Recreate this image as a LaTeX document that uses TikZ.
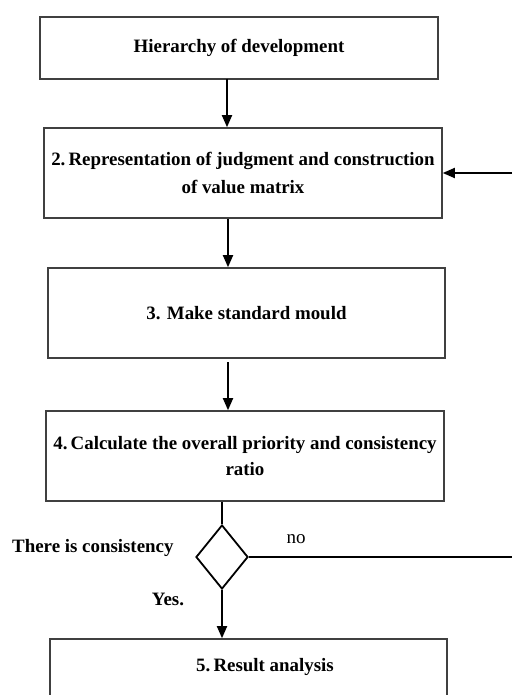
\documentclass[tikz,border=0pt]{standalone}
\usepackage{fontspec}
\setmainfont{Liberation Serif}
\usetikzlibrary{shapes.geometric,arrows.meta}
\begin{document}
\begin{tikzpicture}[x=1pt,y=-1pt,
  box/.style={draw=black!75, line width=1.6pt, rectangle, inner sep=0pt, align=center,
     font=\bfseries\fontsize{18.9}{28}\selectfont},
  arr/.style={line width=1.8pt, -{Triangle[length=12pt,width=10pt]}},
  ln/.style={line width=1.8pt},
  lbl/.style={font=\bfseries\fontsize{18.9}{22}\selectfont, inner sep=0pt},
  lblr/.style={font=\fontsize{19}{22}\selectfont, inner sep=0pt}]
\useasboundingbox (0,0) rectangle (512,695);
\node[box, minimum width=398pt, minimum height=62pt] (b1) at (239,48) {Hierarchy of development};
\node[box, minimum width=398pt, minimum height=90pt] (b2) at (243,173) {2.\,Representation of judgment and construction\\of value matrix};
\node[box, minimum width=397pt, minimum height=90pt] (b3) at (246.5,313) {3. Make standard mould};
\node[box, minimum width=398pt, minimum height=90pt] (b4) at (245,456) {4.\,Calculate the overall priority and consistency\\[-2pt]ratio};
\node[box, minimum width=397pt, minimum height=80pt] (b5) at (248.5,679) {};
\node[lbl] (t5) at (265,667) {5.\,Result analysis};
\node[draw, line width=1.8pt, diamond, minimum width=52pt, minimum height=64pt, inner sep=0pt, aspect=0.8125] (d) at (222,557) {};
\node[lbl, anchor=west] (tc) at (12,548) {There is consistency};
\node[lblr] (tno) at (296,539) {no};
\node[lbl] (tyes) at (168,599) {Yes.};
\coordinate (rin) at (512,173);
\coordinate (rout) at (512,557);
\draw[arr] (227,79) coordinate (a1) -- (b2.north -| a1);
\draw[arr] (b2.south -| 228,0) -- (b3.north -| 228,0);
\draw[arr] (228,362) coordinate (a3) -- (b4.north -| a3);
\draw[ln] (b4.south -| d.north) -- (d.north);
\draw[arr] (d.south) -- (b5.north -| d.south);
\draw[ln] (d.east) -- (rout);
\draw[arr] (rin) -- (b2.east);
\end{tikzpicture}
\end{document}
